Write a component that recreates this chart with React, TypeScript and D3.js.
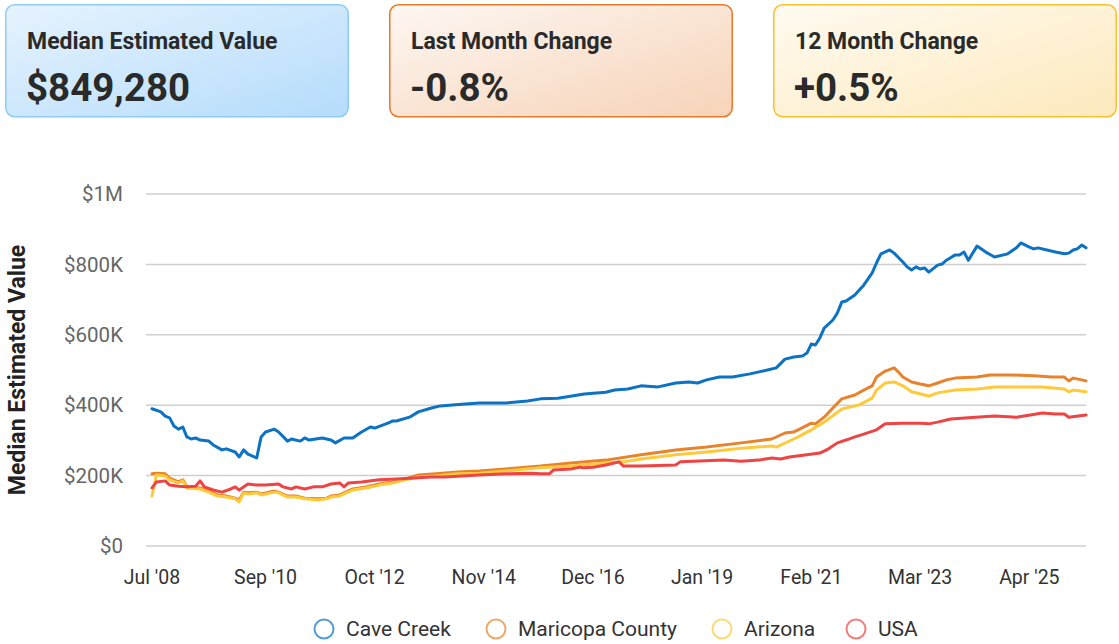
import React from "react";
import * as d3 from "d3";

// ─── Data (values in $K) ─────────────────────────────────────────────────────
type Pt = [string, number];

const caveCreek: Pt[] = [
  ["2008-07", 390], ["2008-09", 381], ["2008-10", 369], ["2008-11", 364], ["2008-12", 341],
  ["2009-01", 332], ["2009-02", 338], ["2009-03", 310], ["2009-04", 304], ["2009-05", 307],
  ["2009-06", 301], ["2009-08", 298], ["2009-09", 287], ["2009-11", 273], ["2009-12", 276],
  ["2010-02", 267], ["2010-03", 253], ["2010-04", 273], ["2010-05", 261], ["2010-07", 250],
  ["2010-08", 310], ["2010-09", 324], ["2010-11", 332], ["2010-12", 324], ["2011-02", 298],
  ["2011-03", 304], ["2011-05", 298], ["2011-06", 307], ["2011-07", 301], ["2011-10", 307],
  ["2011-12", 301], ["2012-01", 293], ["2012-03", 307], ["2012-05", 307], ["2012-07", 324],
  ["2012-09", 338], ["2012-10", 335], ["2013-01", 349], ["2013-02", 355], ["2013-03", 355],
  ["2013-06", 366], ["2013-08", 381], ["2013-11", 392], ["2014-01", 398], ["2014-06", 403],
  ["2014-10", 406], ["2015-04", 406], ["2015-09", 412], ["2015-12", 418], ["2016-04", 420],
  ["2016-10", 432], ["2017-03", 437], ["2017-05", 443], ["2017-08", 446], ["2017-11", 455],
  ["2018-03", 452], ["2018-07", 463], ["2018-10", 466], ["2018-12", 463], ["2019-02", 472],
  ["2019-05", 480], ["2019-08", 480], ["2019-12", 489], ["2020-04", 500], ["2020-06", 506],
  ["2020-08", 531], ["2020-10", 537], ["2020-12", 540], ["2021-01", 548], ["2021-02", 574],
  ["2021-03", 571], ["2021-04", 591], ["2021-05", 619], ["2021-07", 642], ["2021-08", 662],
  ["2021-09", 693], ["2021-10", 696], ["2021-12", 713], ["2022-01", 727], ["2022-02", 741],
  ["2022-04", 776], ["2022-05", 804], ["2022-06", 830], ["2022-08", 841], ["2022-09", 832],
  ["2022-11", 807], ["2022-12", 793], ["2023-01", 784], ["2023-02", 793], ["2023-03", 787],
  ["2023-04", 790], ["2023-05", 778], ["2023-07", 798], ["2023-08", 801], ["2023-09", 812],
  ["2023-11", 827], ["2023-12", 827], ["2024-01", 835], ["2024-02", 812], ["2024-04", 852],
  ["2024-06", 835], ["2024-08", 821], ["2024-11", 830], ["2025-01", 847], ["2025-02", 861],
  ["2025-04", 849], ["2025-05", 844], ["2025-06", 847], ["2025-08", 841], ["2025-10", 835],
  ["2025-12", 830], ["2026-01", 832], ["2026-02", 841], ["2026-03", 844], ["2026-04", 855],
  ["2026-05", 847],
];

const maricopa: Pt[] = [
  ["2008-07", 205], ["2008-08", 207], ["2008-10", 205], ["2008-11", 193], ["2009-01", 182],
  ["2009-02", 188], ["2009-03", 168], ["2009-06", 165], ["2009-08", 156], ["2009-10", 145],
  ["2009-12", 142], ["2010-02", 136], ["2010-03", 131], ["2010-04", 153], ["2010-05", 151],
  ["2010-07", 153], ["2010-08", 148], ["2010-11", 156], ["2010-12", 153], ["2011-02", 142],
  ["2011-04", 142], ["2011-06", 136], ["2011-09", 134], ["2011-11", 136], ["2011-12", 142],
  ["2012-02", 145], ["2012-03", 151], ["2012-05", 162], ["2012-08", 168], ["2012-11", 176],
  ["2013-02", 182], ["2013-05", 190], ["2013-08", 202], ["2013-12", 205], ["2014-05", 210],
  ["2014-10", 213], ["2015-04", 219], ["2015-12", 227], ["2016-07", 236], ["2017-03", 244],
  ["2017-11", 259], ["2018-07", 273], ["2019-02", 281], ["2019-10", 293], ["2020-05", 304],
  ["2020-08", 321], ["2020-10", 324], ["2020-11", 330], ["2021-02", 349], ["2021-03", 347],
  ["2021-05", 366], ["2021-07", 392], ["2021-09", 418], ["2021-12", 429], ["2022-02", 443],
  ["2022-04", 455], ["2022-05", 480], ["2022-07", 497], ["2022-09", 506], ["2022-10", 494],
  ["2022-11", 480], ["2023-01", 466], ["2023-03", 460], ["2023-05", 455], ["2023-07", 463],
  ["2023-09", 472], ["2023-11", 477], ["2024-04", 480], ["2024-07", 486], ["2024-12", 486],
  ["2025-06", 483], ["2025-09", 480], ["2025-12", 480], ["2026-01", 469], ["2026-02", 477],
  ["2026-04", 472], ["2026-05", 469],
];

const arizona: Pt[] = [
  ["2008-07", 142], ["2008-08", 202], ["2008-10", 199], ["2008-11", 188], ["2009-01", 179],
  ["2009-02", 185], ["2009-03", 165], ["2009-06", 162], ["2009-08", 153], ["2009-10", 142],
  ["2009-12", 139], ["2010-02", 134], ["2010-03", 125], ["2010-04", 151], ["2010-05", 148],
  ["2010-07", 151], ["2010-08", 145], ["2010-11", 153], ["2010-12", 151], ["2011-02", 139],
  ["2011-04", 139], ["2011-06", 134], ["2011-09", 131], ["2011-11", 134], ["2011-12", 139],
  ["2012-02", 142], ["2012-03", 148], ["2012-05", 159], ["2012-08", 165], ["2012-11", 173],
  ["2013-02", 179], ["2013-05", 188], ["2013-08", 196], ["2013-12", 199], ["2014-05", 205],
  ["2014-10", 207], ["2015-04", 213], ["2015-12", 222], ["2016-07", 227], ["2017-03", 236],
  ["2017-07", 239], ["2017-11", 247], ["2018-07", 259], ["2019-02", 267], ["2019-10", 278],
  ["2020-05", 284], ["2020-06", 281], ["2020-10", 304], ["2020-11", 310], ["2021-02", 330],
  ["2021-05", 352], ["2021-09", 389], ["2022-01", 401], ["2022-04", 420], ["2022-05", 443],
  ["2022-07", 463], ["2022-09", 466], ["2022-11", 455], ["2023-01", 438], ["2023-05", 426],
  ["2023-07", 435], ["2023-11", 443], ["2024-04", 446], ["2024-08", 452], ["2025-07", 452],
  ["2025-12", 446], ["2026-01", 438], ["2026-02", 443], ["2026-05", 438],
];

const usa: Pt[] = [
  ["2008-07", 165], ["2008-08", 182], ["2008-10", 185], ["2008-11", 173], ["2009-01", 170],
  ["2009-03", 168], ["2009-05", 170], ["2009-06", 185], ["2009-07", 168], ["2009-09", 159],
  ["2009-11", 153], ["2010-01", 162], ["2010-02", 168], ["2010-03", 159], ["2010-05", 176],
  ["2010-07", 173], ["2010-09", 173], ["2010-12", 176], ["2011-01", 168], ["2011-03", 162],
  ["2011-04", 168], ["2011-06", 162], ["2011-08", 168], ["2011-10", 168], ["2011-12", 176],
  ["2012-02", 179], ["2012-03", 168], ["2012-04", 179], ["2012-07", 182], ["2012-11", 188],
  ["2013-03", 190], ["2013-07", 193], ["2013-11", 196], ["2014-02", 196], ["2014-10", 202],
  ["2015-04", 205], ["2015-10", 207], ["2015-12", 205], ["2016-02", 205], ["2016-03", 216],
  ["2016-07", 219], ["2016-09", 224], ["2016-10", 222], ["2016-12", 224], ["2017-03", 230],
  ["2017-06", 239], ["2017-07", 227], ["2017-11", 227], ["2018-07", 230], ["2018-08", 239],
  ["2018-11", 241], ["2019-06", 244], ["2019-10", 241], ["2020-02", 244], ["2020-05", 250],
  ["2020-07", 247], ["2020-09", 253], ["2021-01", 259], ["2021-04", 264], ["2021-06", 276],
  ["2021-08", 293], ["2021-10", 301], ["2021-12", 310], ["2022-02", 318], ["2022-05", 330],
  ["2022-07", 347], ["2022-11", 349], ["2023-03", 349], ["2023-05", 347], ["2023-07", 352],
  ["2023-10", 361], ["2024-02", 364], ["2024-08", 369], ["2025-01", 366], ["2025-07", 378],
  ["2025-10", 375], ["2025-12", 375], ["2026-01", 366], ["2026-05", 372],
];

const seriesNames = ["Cave Creek", "Maricopa County", "Arizona", "USA"];
const seriesData = [caveCreek, maricopa, arizona, usa];

const tickDates = ["2008-07", "2010-09", "2012-10", "2014-11", "2016-12", "2019-01", "2021-02", "2023-03", "2025-04"];
const tickLabels = ["Jul '08", "Sep '10", "Oct '12", "Nov '14", "Dec '16", "Jan '19", "Feb '21", "Mar '23", "Apr '25"];
const yTicks = [0, 200, 400, 600, 800, 1000];

const cardTitles = ["Median Estimated Value", "Last Month Change", "12 Month Change"];
const cardValues = ["$849,280", "-0.8%", "+0.5%"];

// ─── Design tokens ────────────────────────────────────────────────────────────
const W = 1119;
const H = 644;
const FONT = "Roboto, 'Noto Sans', sans-serif";
const LINE_COLORS = ["#0b72c4", "#e8832c", "#fec93a", "#ee4444"];
const GRID = "#cfcfcf";
const CARD_STYLES = [
  { from: "#e6f3fe", to: "#b5dcfb", stroke: "#8ecbf6" },
  { from: "#fdf7f2", to: "#f7d3b8", stroke: "#e9792a" },
  { from: "#fffbf1", to: "#fde9bd", stroke: "#fbc02d" },
];
const CARD_X = [5, 389, 773];
const CARD_W = 344;

const parse = d3.timeParse("%Y-%m");

export default function App() {
  const x = d3
    .scaleTime()
    .domain([parse("2008-07")!, parse("2026-05")!])
    .range([152, 1086]);
  const y = d3.scaleLinear().domain([0, 1000]).range([546, 194]);

  const line = d3
    .line<Pt>()
    .x((d) => x(parse(d[0])!))
    .y((d) => y(d[1]));

  const fmtY = (v: number) => (v === 0 ? "$0" : v >= 1000 ? `$${v / 1000}M` : `$${v}K`);

  const legendX = [324, 496, 722, 856];

  return (
    <div style={{ position: "absolute", left: 0, top: 0 }}>
      <svg width={W} height={H} style={{ fontFamily: FONT, display: "block" }}>
        <defs>
          {CARD_STYLES.map((c, i) => (
            <linearGradient key={i} id={`card${i}`} x1="0" y1="0" x2="1" y2="1">
              <stop offset="0%" stopColor={c.from} />
              <stop offset="100%" stopColor={c.to} />
            </linearGradient>
          ))}
        </defs>

        {/* stat cards */}
        {cardTitles.map((t, i) => (
          <g key={t} transform={`translate(${CARD_X[i]},4)`}>
            <rect
              x={0.75}
              y={0.75}
              width={CARD_W - 1.5}
              height={112}
              rx={9}
              fill={`url(#card${i})`}
              stroke={CARD_STYLES[i].stroke}
              strokeWidth={1.5}
            />
            <text x={22} y={45} fontSize={23} fontWeight={700} fill="#2a2a2a">
              {t}
            </text>
            <text x={21} y={97} fontSize={38.5} fontWeight={700} fill="#2a2a2a">
              {cardValues[i]}
            </text>
          </g>
        ))}

        {/* grid + y axis */}
        {yTicks.map((v) => (
          <g key={v}>
            <line x1={146} x2={1086} y1={y(v)} y2={y(v)} stroke={GRID} strokeWidth={1.5} />
            <text x={123} y={y(v)} dy="0.35em" textAnchor="end" fontSize={20.5} fill="#666">
              {fmtY(v)}
            </text>
          </g>
        ))}

        <text
          transform={`translate(25,${(y(0) + y(1000)) / 2}) rotate(-90)`}
          textAnchor="middle"
          fontSize={23}
          fontWeight={700}
          fill="#222"
        >
          Median Estimated Value
        </text>

        {/* x axis labels */}
        {tickDates.map((d, i) => (
          <text key={d} x={x(parse(d)!)} y={584} textAnchor="middle" fontSize={19.5} fill="#333">
            {tickLabels[i]}
          </text>
        ))}

        {/* lines */}
        {seriesData.map((s, i) => (
          <path
            key={seriesNames[i]}
            d={line(s) ?? ""}
            fill="none"
            stroke={LINE_COLORS[i]}
            strokeWidth={3}
            strokeLinejoin="round"
            strokeLinecap="round"
          />
        ))}

        {/* legend */}
        {seriesNames.map((n, i) => (
          <g key={n} transform={`translate(${legendX[i]},629)`}>
            <circle r={9.5} fill="none" stroke={LINE_COLORS[i]} strokeOpacity={0.7} strokeWidth={2} />
            <text x={22} dy="0.35em" fontSize={21} fill="#333">
              {n}
            </text>
          </g>
        ))}
      </svg>
    </div>
  );
}
